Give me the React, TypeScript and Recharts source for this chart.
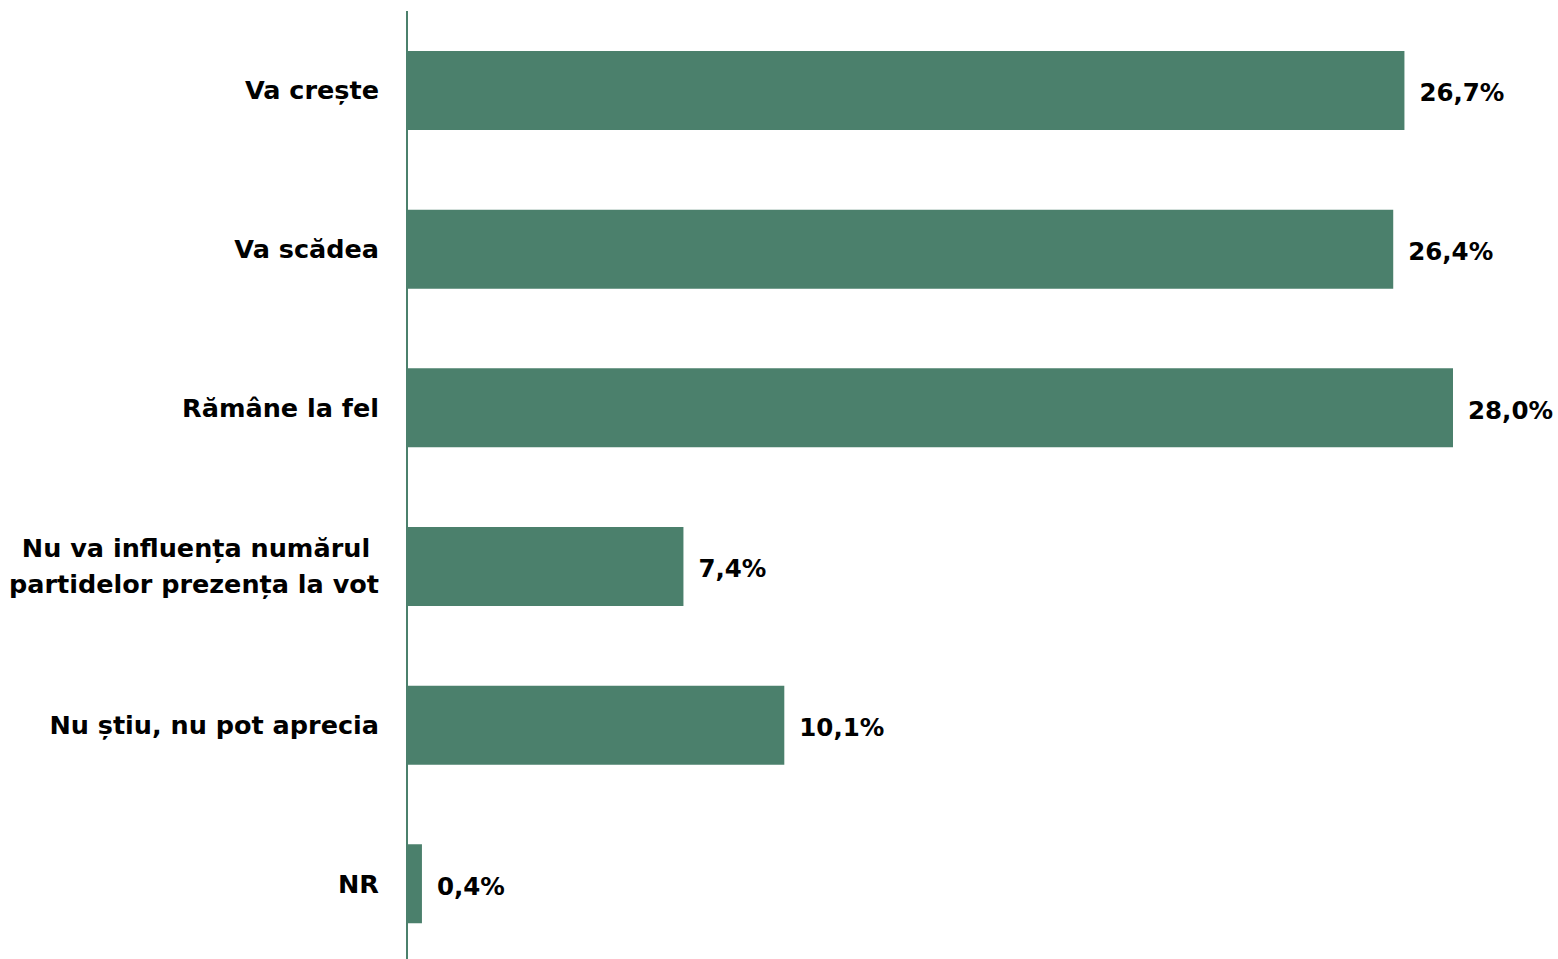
import React from "react";
import { BarChart, Bar, XAxis, YAxis, LabelList } from "recharts";

const categories = [
  "Va crește",
  "Va scădea",
  "Rămâne la fel",
  "Nu va influența numărul \npartidelor prezența la vot",
  "Nu știu, nu pot aprecia",
  "NR",
];
const values = [26.7, 26.4, 28.0, 7.4, 10.1, 0.4];

const data = categories.map((c, i) => ({ name: c, value: values[i] }));

const GREEN = "#4b806c";
const FONT = "'DejaVu Sans', sans-serif";

const Tick = (props: any) => {
  const { x, y, payload } = props;
  const lines = String(payload.value).split("\n");
  const lh = 36;
  const start = -((lines.length - 1) * lh) / 2;
  return (
    <text
      x={x - 20}
      y={y}
      textAnchor="end"
      dominantBaseline="central"
      fontFamily={FONT}
      fontWeight="bold"
      fontSize={25.5}
      fill="#000"
    >
      {lines.map((l, i) => (
        <tspan key={i} x={x - 20} dy={i === 0 ? start : lh}>
          {l}
        </tspan>
      ))}
    </text>
  );
};

const fmt = (v: any) => Number(v).toFixed(1).replace(".", ",") + "%";

export default function App() {
  return (
    <div style={{ position: "absolute", left: 0, top: 0, background: "#fff" }}>
      <BarChart
        width={1558}
        height={963}
        data={data}
        layout="vertical"
        margin={{ top: 11, right: 105, bottom: 0, left: 0 }}
      >
        <XAxis type="number" domain={[0, 28]} hide />
        <YAxis
          type="category"
          dataKey="name"
          width={407}
          axisLine={{ stroke: GREEN, strokeWidth: 2 }}
          tickLine={false}
          tick={<Tick />}
          interval={0}
        />
        <Bar dataKey="value" fill={GREEN} barSize={79} isAnimationActive={false}>
          <LabelList
            dataKey="value"
            position="right"
            offset={15}
            formatter={fmt}
            style={{ fontFamily: FONT, fontWeight: "bold", fontSize: 24.5, fill: "#000", transform: "translateY(2px)" }}
          />
        </Bar>
      </BarChart>
    </div>
  );
}
